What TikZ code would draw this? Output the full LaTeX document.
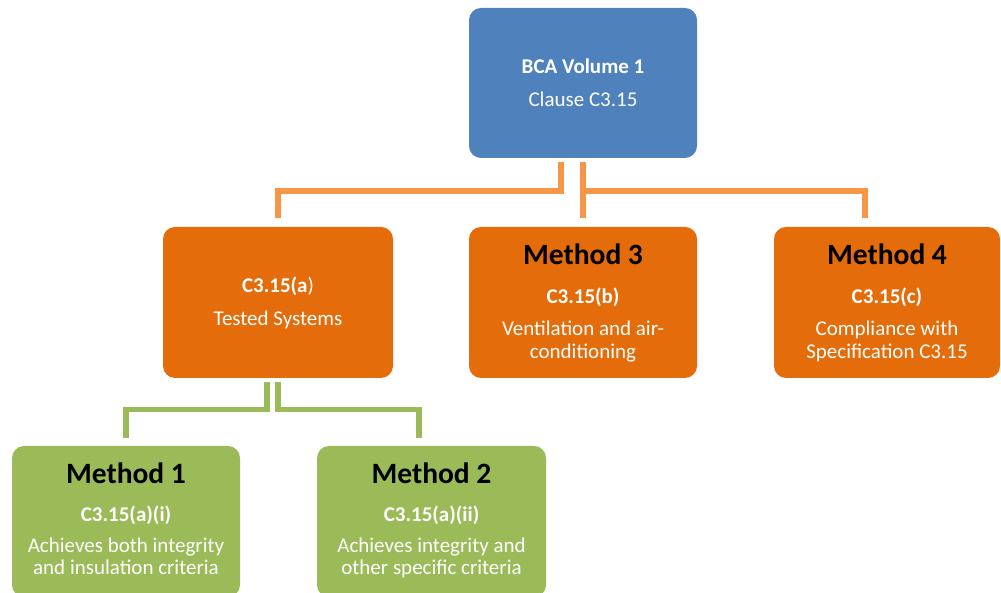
\documentclass[tikz,border=0pt]{standalone}
\usepackage{fontspec}
\setmainfont{Carlito}
\definecolor{boxblue}{HTML}{4F81BD}
\definecolor{boxorange}{HTML}{E46C0A}
\definecolor{conorange}{HTML}{F79646}
\definecolor{boxgreen}{HTML}{9BBB59}
\begin{document}
\begin{tikzpicture}[x=1pt,y=1pt,
  basebox/.style={rounded corners=12pt, inner sep=0pt, minimum height=151pt},
  bluebox/.style={basebox, fill=boxblue, minimum width=228pt, minimum height=150pt},
  orbox/.style={basebox, fill=boxorange},
  grbox/.style={basebox, fill=boxgreen},
  headtxt/.style={font=\fontsize{29.5}{35}\selectfont\bfseries, text=black, anchor=base, inner sep=0pt},
  subtxt/.style={font=\fontsize{21}{25}\selectfont\bfseries, text=white, anchor=base, inner sep=0pt},
  bodytxt/.style={font=\fontsize{21}{25}\selectfont, text=white, anchor=base, inner sep=0pt},
  oline/.style={draw=conorange, line width=6pt, line join=miter},
  gline/.style={draw=boxgreen, line width=5.5pt, line join=miter}]
\useasboundingbox (0,0) rectangle (1001,593);
\clip (0,0) rectangle (1001,593);
% boxes
\node[bluebox] (top) at (583,510) {};
\node[orbox, minimum width=230pt] (ca) at (278,290.5) {};
\node[orbox, minimum width=228pt] (m3) at (583,290.5) {};
\node[orbox, minimum width=226pt] (m4) at (887,290.5) {};
\node[grbox, minimum width=228pt] (m1) at (126,71.5) {};
\node[grbox, minimum width=229pt] (m2) at (431.5,71.5) {};
% texts
\node[subtxt] (topa) at (583,519.7) {BCA Volume 1};
\node[bodytxt] (topb) at (583,486.5) {Clause C3.15};
\node[subtxt] (caa) at (278,300.7) {C3.15(a\textmd{)}};
\node[bodytxt] (cab) at (278,267.7) {Tested Systems};
\node[headtxt] (m3a) at (583,328) {Method 3};
\node[subtxt] (m3b) at (583,289.7) {C3.15(b)};
\node[bodytxt] (m3c) at (583,257) {Ventilation and air-};
\node[bodytxt] (m3d) at (583,234.7) {conditioning};
\node[headtxt] (m4a) at (887,328) {Method 4};
\node[subtxt] (m4b) at (887,289.7) {C3.15(c)};
\node[bodytxt] (m4c) at (887,257) {Compliance with};
\node[bodytxt] (m4d) at (887,234.7) {Specification C3.15};
\node[headtxt] (m1a) at (126,109.7) {Method 1};
\node[subtxt] (m1b) at (126,71.3) {C3.15(a)(i)};
\node[bodytxt] (m1c) at (126,40.3) {Achieves both integrity};
\node[bodytxt] (m1d) at (126,18) {and insulation criteria};
\node[headtxt] (m2a) at (431.5,109.7) {Method 2};
\node[subtxt] (m2b) at (431.5,71.3) {C3.15(a)(ii)};
\node[bodytxt] (m2c) at (431.5,40.3) {Achieves integrity and};
\node[bodytxt] (m2d) at (431.5,18) {other specific criteria};
% orange connectors
\draw[oline] ([xshift=-22pt,yshift=-3.7pt]top.south) |- ([yshift=36pt]ca.north) -- ([yshift=9pt]ca.north);
\draw[oline] ([yshift=-3.7pt]top.south) -- ([yshift=9pt]m3.north);
\draw[oline] ([yshift=-33pt]top.south) -| ([xshift=-22pt,yshift=9pt]m4.north);
% green connectors
\draw[gline] ([xshift=-11pt,yshift=-3.7pt]ca.south) |- ([yshift=36.5pt]m1.north) -- ([yshift=8pt]m1.north);
\draw[gline] ([yshift=-3.7pt]ca.south) |- ([xshift=-12.5pt,yshift=36.5pt]m2.north) -- ([xshift=-12.5pt,yshift=8pt]m2.north);
\end{tikzpicture}
\end{document}
